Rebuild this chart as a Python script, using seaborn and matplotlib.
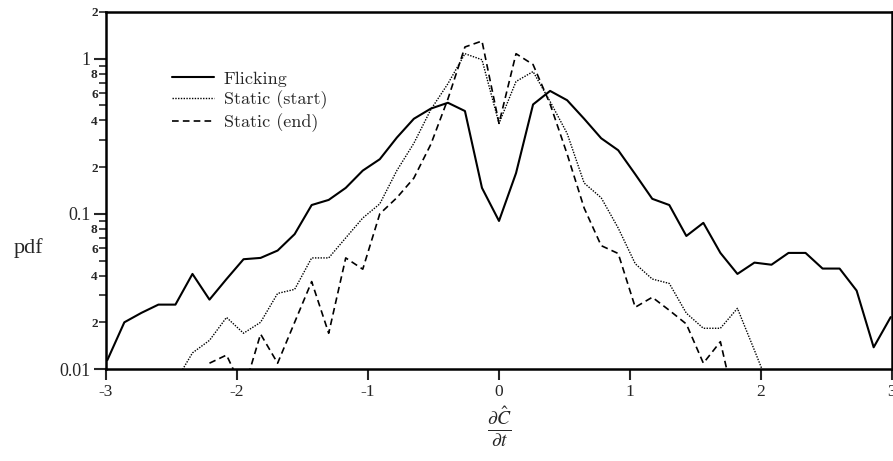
import numpy as np
import pandas as pd
import matplotlib
matplotlib.use("Agg")
import matplotlib.pyplot as plt
from matplotlib.lines import Line2D
from matplotlib.ticker import FixedLocator, FixedFormatter
import seaborn as sns

# bin centres of the rate-of-change histogram
x_vals = [-2.99, -2.86, -2.73, -2.60, -2.47, -2.34, -2.21, -2.08, -1.95, -1.82,
          -1.69, -1.56, -1.43, -1.30, -1.17, -1.04, -0.91, -0.78, -0.65, -0.52,
          -0.39, -0.26, -0.13, 0.00, 0.13, 0.26, 0.39, 0.52, 0.65, 0.78,
          0.91, 1.04, 1.17, 1.30, 1.43, 1.56, 1.69, 1.82, 1.95, 2.08,
          2.21, 2.34, 2.47, 2.60, 2.73, 2.86, 2.99]

nan = np.nan
flicking = [0.0114, 0.020, 0.023, 0.026, 0.026, 0.041, 0.028, 0.038, 0.051, 0.052,
            0.058, 0.074, 0.114, 0.123, 0.147, 0.19, 0.225, 0.31, 0.41, 0.477,
            0.52, 0.46, 0.147, 0.090, 0.183, 0.507, 0.62, 0.54, 0.41, 0.307,
            0.257, 0.180, 0.125, 0.114, 0.072, 0.0875, 0.056, 0.041, 0.0485, 0.047,
            0.056, 0.056, 0.0444, 0.0444, 0.032, 0.0138, 0.0216]
static_start = [nan, nan, nan, nan, 0.0083, 0.0127, 0.0153, 0.0215, 0.017, 0.020,
                0.0307, 0.0326, 0.052, 0.052, 0.070, 0.094, 0.116, 0.19, 0.285, 0.471,
                0.69, 1.077, 0.985, 0.383, 0.713, 0.826, 0.53, 0.33, 0.158, 0.127,
                0.081, 0.0477, 0.038, 0.0356, 0.0229, 0.0183, 0.0183, 0.0246, 0.0132, 0.007,
                nan, nan, nan, nan, nan, nan, nan]
static_end = [nan, nan, nan, nan, nan, nan, 0.0109, 0.0123, 0.0072, 0.0168,
              0.0109, 0.020, 0.0366, 0.017, 0.052, 0.044, 0.10, 0.127, 0.170, 0.281,
              0.55, 1.19, 1.30, 0.383, 1.077, 0.917, 0.51, 0.243, 0.109, 0.0624,
              0.0555, 0.025, 0.029, 0.0239, 0.0195, 0.0109, 0.015, 0.005, nan, nan,
              nan, nan, nan, nan, nan, nan, nan]

series_names = ["Flicking", "Static (start)", "Static (end)"]

x_ticks = [-3, -2, -1, 0, 1, 2, 3]
x_ticklabels = ["-3", "-2", "-1", "0", "1", "2", "3"]
y_major = [0.01, 0.1, 1]
y_major_labels = ["0.01", "0.1", "1"]
y_minor = [0.02, 0.03, 0.04, 0.05, 0.06, 0.07, 0.08, 0.09,
           0.2, 0.3, 0.4, 0.5, 0.6, 0.7, 0.8, 0.9, 2]
y_minor_labels = ["2", "", "4", "", "6", "", "8", "",
                  "2", "", "4", "", "6", "", "8", "", "2"]

df = pd.concat([
    pd.DataFrame({"x": x_vals, "pdf": vals, "series": name})
    for name, vals in zip(series_names, [flicking, static_start, static_end])
], ignore_index=True)

sns.set_style("ticks")
plt.rcParams["mathtext.fontset"] = "stix"

fig = plt.figure(figsize=(8.93, 4.61), dpi=100)
ax = fig.add_axes([106 / 893, 1 - 369 / 461, 786 / 893, 357 / 461])

dash_map = {"Flicking": "", "Static (start)": (1, 1), "Static (end)": (4, 2.5)}
width_map = {"Flicking": 1.5, "Static (start)": 1.0, "Static (end)": 1.2}
for name in series_names:
    sub = df[df["series"] == name]
    sns.lineplot(data=sub, x="x", y="pdf", ax=ax, color="black",
                 estimator=None, sort=False, legend=False,
                 linewidth=width_map[name], dashes=False)
    line = ax.lines[-1]
    if dash_map[name]:
        line.set_dashes(dash_map[name])

ax.set_yscale("log")
ax.set_xlim(-3, 3)
ax.set_ylim(0.01, 2)

ax.xaxis.set_major_locator(FixedLocator(x_ticks))
ax.xaxis.set_major_formatter(FixedFormatter(x_ticklabels))
ax.xaxis.set_minor_locator(FixedLocator([]))
ax.yaxis.set_major_locator(FixedLocator(y_major))
ax.yaxis.set_major_formatter(FixedFormatter(y_major_labels))
ax.yaxis.set_minor_locator(FixedLocator(y_minor))
ax.yaxis.set_minor_formatter(FixedFormatter(y_minor_labels))

ax.tick_params(axis="x", which="major", direction="out", length=8, width=1.5,
               pad=2.5, labelsize=12.5)
ax.tick_params(axis="y", which="major", direction="out", length=9, width=1.5,
               pad=2, labelsize=13)
ax.tick_params(axis="y", which="minor", direction="out", length=5, width=1.2,
               pad=1, labelsize=9.5)
for lab in ax.get_xticklabels() + ax.get_yticklabels():
    lab.set_family("Liberation Serif")
for lab in ax.get_yticklabels(minor=True):
    lab.set_family("Liberation Serif")
    lab.set_fontweight("bold")

for sp in ax.spines.values():
    sp.set_linewidth(1.8)
    sp.set_color("black")

ax.set_ylabel("pdf", rotation=0, fontsize=16, family="Liberation Serif",
              ha="center", va="center")
ax.yaxis.set_label_coords(-0.098, 0.34)
ax.set_xlabel(r"$\frac{\partial \hat{C}}{\partial t}$", fontsize=20)
ax.xaxis.set_label_coords(0.5, -0.16)
ax.xaxis.label.set_va("center")

handles = [
    Line2D([], [], color="black", linewidth=1.5),
    Line2D([], [], color="black", linewidth=1.0, dashes=(1, 1)),
    Line2D([], [], color="black", linewidth=1.2, dashes=(4, 2.5)),
]
leg = ax.legend(handles, series_names, loc="upper left",
                bbox_to_anchor=(0.066, 0.875), frameon=False,
                handlelength=2.3, handletextpad=0.55, labelspacing=0.22,
                borderpad=0.3,
                prop={"family": "cmr10", "size": 13})

fig.savefig("out.png", dpi=100)
